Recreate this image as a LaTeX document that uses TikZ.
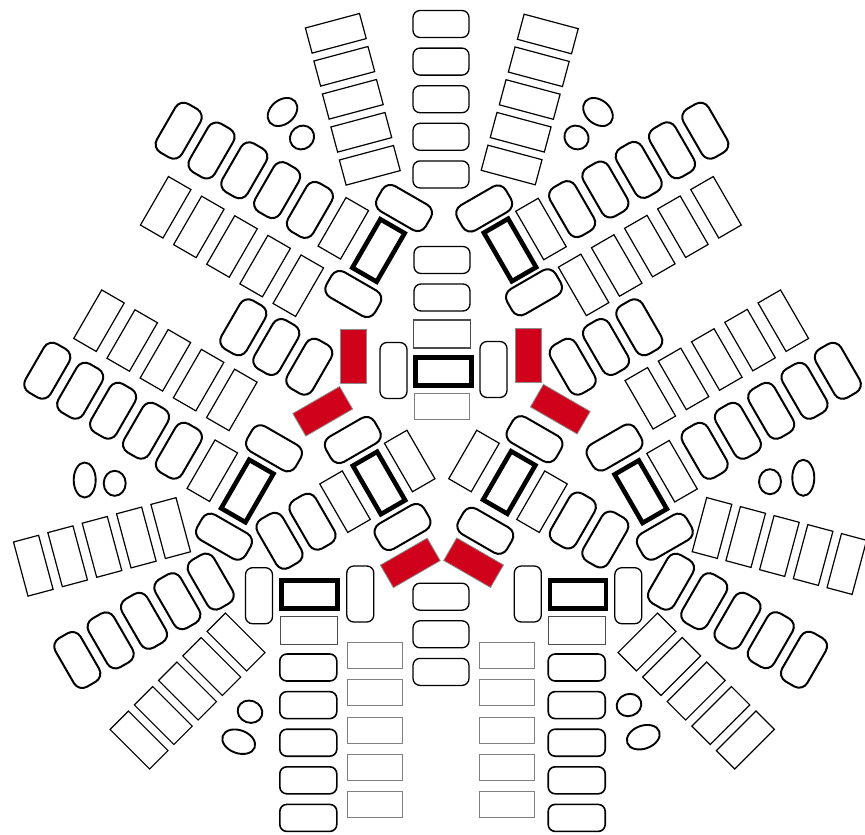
\documentclass[tikz,border=0pt]{standalone}
\usetikzlibrary{shapes.geometric}
\definecolor{seatred}{RGB}{208,2,27}
\tikzset{
  base/.style={inner sep=0pt, outer sep=0pt, minimum width=55pt, minimum height=26pt, fill=white},
  rseat/.style={base, draw=black, line width=1.3pt, rounded corners=7pt, minimum width=56pt, minimum height=27pt},
  bseat/.style={rseat, line width=1.6pt, minimum width=57pt},
  tseat/.style={base, draw=black, line width=2pt, rounded corners=9.5pt, minimum width=56pt, minimum height=29pt},
  sseat/.style={base, draw=black, line width=1.2pt, minimum width=56pt},
  dseat/.style={base, draw=black!70, line width=1.2pt, minimum width=57pt, minimum height=28pt},
  gseat/.style={base, draw=black!50, line width=1pt},
  chair/.style={base, draw=black, line width=4.6pt, minimum width=56pt, minimum height=28pt},
  redseat/.style={base, fill=seatred, draw=black!45, line width=0.8pt, minimum width=54pt, minimum height=26pt},
  oval/.style={ellipse, draw=black, line width=1.9pt, inner sep=0pt, fill=white}
}
\begin{document}
\begin{tikzpicture}[x=1pt,y=-1pt]
\useasboundingbox (0,0) rectangle (865,835);
% ---- top centre column
\foreach \i in {0,...,4} \node[rseat] (top\i) at (441,{24+37.6*\i}) {};
\node[rseat] (cu1) at (442,260) {};
\node[rseat] (cu2) at (442,297.5) {};
\node[dseat] (cu3) at (442.3,334) {};
\node[chair] (cth) at (443.7,371.5) {};
\node[gseat] (cu4) at (441.7,406.7) {};
\node[rseat, rotate=90] (ccl) at (393.5,370.5) {};
\node[rseat, rotate=90] (ccr) at (493.5,369.5) {};
% ---- top slanted columns
\foreach \i in {0,...,4} \node[sseat, rotate=15] (tlc\i) at ({335.8+8.5*\i},{33.3+33*\i}) {};
\foreach \i in {0,...,4} \node[sseat, rotate=-15] (trc\i) at ({547.8-9.05*\i},{34+32.75*\i}) {};
% ---- top-left unit
\foreach \i in {0,...,4} \node[tseat, rotate=60] (tla\i) at ({178.7+32.8*\i},{130.7+19.8*\i}) {};
\node[sseat, rotate=60] (tlr) at (343.3,228.3) {};
\node[chair, rotate=60] (tlt) at (378.5,250.5) {};
\node[tseat, rotate=-30] (tlk1) at (404,208) {};
\node[tseat, rotate=-30] (tlk2) at (353.3,294) {};
\foreach \i in {0,...,4} \node[sseat, rotate=60] (tlb\i) at ({165.7+33.15*\i},{207.3+19.6*\i}) {};
% ---- top-right unit
\foreach \i in {0,...,4} \node[tseat, rotate=-60] (tra\i) at ({705.3-33.3*\i},{130.7+19.6*\i}) {};
\node[sseat, rotate=-60] (trr) at (541,229) {};
\node[chair, rotate=-60] (trt) at (510,250) {};
\node[tseat, rotate=30] (trk1) at (484.2,208.5) {};
\node[tseat, rotate=30] (trk2) at (534,292.3) {};
\foreach \i in {0,...,4} \node[sseat, rotate=-60] (trb\i) at ({716-33.1*\i},{207.3+19.4*\i}) {};
% ---- short rows
\foreach \i in {0,1,2} \node[tseat, rotate=60] (sl\i) at ({243.3+33*\i},{327.3+19.7*\i}) {};
\foreach \i in {0,1,2} \node[tseat, rotate=-60] (sr\i) at ({639.3-33.3*\i},{327.3+19.7*\i}) {};
% ---- middle rect rows
\foreach \i in {0,...,4} \node[sseat, rotate=60] (mlb\i) at ({99+33.2*\i},{320.7+19.8*\i}) {};
\foreach \i in {0,...,4} \node[sseat, rotate=-60] (mrb\i) at ({783.3-33.25*\i},{320.7+19.4*\i}) {};
% ---- middle-left unit
\foreach \i in {0,...,4} \node[tseat, rotate=60] (mla\i) at ({47.3+32.9*\i},{370.7+20*\i}) {};
\node[sseat, rotate=60] (mlr) at (212.3,470.7) {};
\node[chair, rotate=60] (mlt) at (247.3,491) {};
\node[tseat, rotate=-30] (mlk1) at (274,448.3) {};
\node[tseat, rotate=-30] (mlk2) at (224,536.7) {};
% ---- middle-right unit
\foreach \i in {0,...,4} \node[tseat, rotate=-60] (mra\i) at ({837.8-33.3*\i},{370.8+20*\i}) {};
\node[sseat, rotate=-60] (mrr) at (672,471.2) {};
\node[chair, rotate=-60] (mrt) at (640.7,491.7) {};
\node[tseat, rotate=30] (mrk1) at (614.5,447.5) {};
\node[tseat, rotate=30] (mrk2) at (664.8,536.7) {};
% ---- inner lower-left unit
\node[tseat, rotate=-60] (bla1) at (279.5,540.8) {};
\node[tseat, rotate=-60] (bla2) at (312.5,521.7) {};
\node[sseat, rotate=-60] (blr1) at (345,501.7) {};
\node[chair, rotate=-60] (blt) at (379,483) {};
\node[sseat, rotate=-60] (blr2) at (409.7,461) {};
\node[tseat, rotate=30] (blk1) at (352.8,440) {};
\node[tseat, rotate=30] (blk2) at (402.5,527) {};
% ---- inner lower-right unit
\node[tseat, rotate=60] (bra1) at (605.3,539.5) {};
\node[tseat, rotate=60] (bra2) at (572.8,520.5) {};
\node[sseat, rotate=60] (brr1) at (542,501.7) {};
\node[chair, rotate=60] (brt) at (509.2,482.5) {};
\node[sseat, rotate=60] (brr2) at (474,461) {};
\node[tseat, rotate=-30] (brk1) at (534.5,439.2) {};
\node[tseat, rotate=-30] (brk2) at (485.3,530.8) {};
% ---- red seats
\node[redseat, rotate=90] (red1) at (353.3,356.7) {};
\node[redseat, rotate=30] (red2) at (322.7,411.3) {};
\node[redseat, rotate=90] (red3) at (528.3,355.3) {};
\node[redseat, rotate=-30] (red4) at (560.3,409.2) {};
\node[redseat, rotate=30] (red5) at (410.3,562.9) {};
\node[redseat, rotate=-30] (red6) at (473.6,562.7) {};
% ---- bottom centre
\foreach \i in {0,1,2} \node[rseat] (bc\i) at (441,{596.7+37.6*\i}) {};
% ---- bottom-left block
\node[rseat, rotate=90] (blc1) at (259,595.7) {};
\node[rseat, rotate=90] (blc2) at (360.3,594) {};
\node[chair] (blh) at (309.5,594.7) {};
\node[dseat] (blhr) at (309.2,630.3) {};
\foreach \i in {0,...,4} \node[bseat] (blcol\i) at (308.3,{667.5+37.6*\i}) {};
\foreach \i in {0,...,4} \node[gseat] (blg\i) at (375.3,{655.3+37.35*\i}) {};
% ---- bottom-right block
\node[rseat, rotate=90] (brc1) at (527.8,594) {};
\node[rseat, rotate=90] (brc2) at (628.3,595.7) {};
\node[chair] (brh) at (577.8,594.7) {};
\node[dseat] (brhr) at (577,630.3) {};
\foreach \i in {0,...,4} \node[bseat] (brcol\i) at (576.7,{667.5+37.6*\i}) {};
\foreach \i in {0,...,4} \node[gseat] (brg\i) at (507.3,{655.3+37.35*\i}) {};
% ---- side tall rect rows
\foreach \i in {0,...,4} \node[sseat, rotate=105] (lt\i) at ({33.3+34.35*\i},{565.7-9.4*\i}) {};
\foreach \i in {0,...,4} \node[sseat, rotate=75] (rt\i) at ({712+33.7*\i},{528+9*\i}) {};
% ---- lower rounded rows
\foreach \i in {0,...,4} \node[tseat, rotate=-60] (llr\i) at ({77.3+33.35*\i},{660-19.6*\i}) {};
\foreach \i in {0,...,4} \node[tseat, rotate=60] (lrr\i) at ({671+33.25*\i},{581.7+19.5*\i}) {};
% ---- lower diagonal rect rows
\foreach \i in {0,...,4} \node[sseat, rotate=-45] (lld\i) at ({139+24.25*\i},{740-24.5*\i}) {};
\foreach \i in {0,...,4} \node[sseat, rotate=45] (lrd\i) at ({647+24.6*\i},{642+24.5*\i}) {};
% ---- ovals
\node[oval, minimum width=33pt, minimum height=24pt, rotate=40] (o1) at (282.5,112) {};
\node[oval, minimum width=25pt, minimum height=23pt, rotate=40] (o2) at (302,137.5) {};
\node[oval, minimum width=33pt, minimum height=24pt, rotate=-40] (o3) at (598,112) {};
\node[oval, minimum width=25pt, minimum height=23pt, rotate=-40] (o4) at (576.5,137.5) {};
\node[oval, minimum width=22pt, minimum height=35pt] (o5) at (84.7,480) {};
\node[oval, minimum width=22pt, minimum height=25pt] (o6) at (114.7,483.3) {};
\node[oval, minimum width=22pt, minimum height=25pt] (o7) at (770,481.7) {};
\node[oval, minimum width=22pt, minimum height=36pt] (o8) at (803.3,477.8) {};
\node[oval, minimum width=25pt, minimum height=22pt, rotate=-20] (o9) at (250,711.7) {};
\node[oval, minimum width=34pt, minimum height=23pt, rotate=-20] (o10) at (238.7,741.7) {};
\node[oval, minimum width=25pt, minimum height=22pt, rotate=20] (o11) at (629,705) {};
\node[oval, minimum width=34pt, minimum height=23pt, rotate=20] (o12) at (643.3,737.2) {};
\end{tikzpicture}
\end{document}
